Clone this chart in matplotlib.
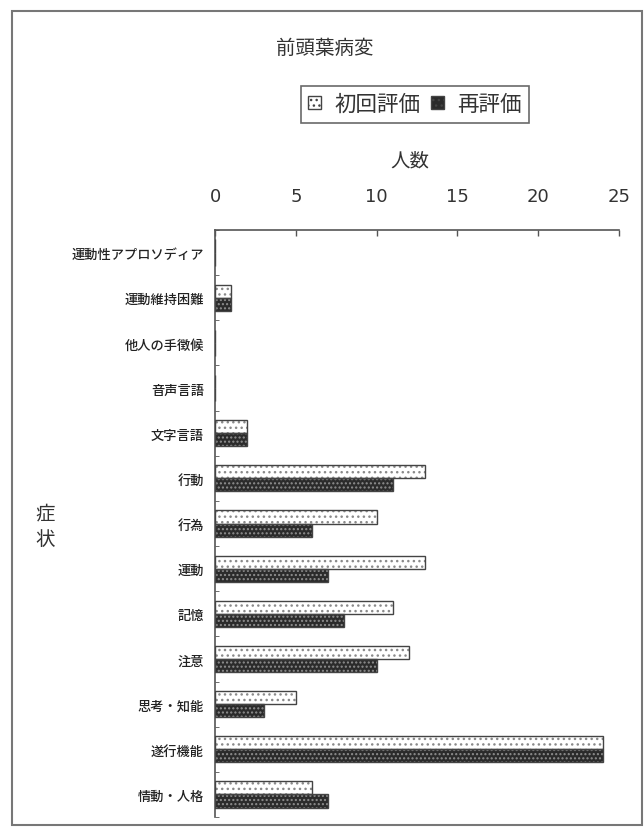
import numpy as np
import matplotlib.pyplot as plt
from matplotlib.patches import Patch, Rectangle

plt.rcParams['font.family'] = ['Noto Sans CJK JP', 'DejaVu Sans']
plt.rcParams['hatch.linewidth'] = 1.0

# 症状ごとの人数（上から順）
symptoms = ['運動性アプロソディア', '運動維持困難', '他人の手徴候', '音声言語', '文字言語',
            '行動', '行為', '運動', '記憶', '注意', '思考・知能', '遂行機能', '情動・人格']
first_eval = [0, 1, 0, 0, 2, 13, 10, 13, 11, 12, 5, 24, 6]
re_eval = [0, 1, 0, 0, 2, 11, 6, 7, 8, 10, 3, 24, 7]
x_ticks = [0, 5, 10, 15, 20, 25]

TXT = '#333333'

fig = plt.figure(figsize=(6.44, 8.28), dpi=100)
ax = fig.add_axes([0.334, 0.012, 0.627, 0.709])

y = np.arange(len(symptoms))
h = 0.29

# 初回評価: 白地に点、再評価: 黒地に点
ax.barh(y - h / 2, first_eval, height=h, color='white', edgecolor='#8a8a8a',
        hatch='...', linewidth=0, zorder=2)
ax.barh(y - h / 2, first_eval, height=h, fill=False, edgecolor='#444444',
        linewidth=1.0, zorder=3)
ax.barh(y + h / 2, re_eval, height=h, color='#2b2b2b', edgecolor='#8f8f8f',
        hatch='....', linewidth=0, zorder=2)
ax.barh(y + h / 2, re_eval, height=h, fill=False, edgecolor='#444444',
        linewidth=1.0, zorder=3)

ax.set_xlim(0, 25)
ax.set_ylim(len(symptoms) - 0.5, -0.5)
ax.xaxis.tick_top()
ax.set_xticks(x_ticks)
ax.tick_params(axis='x', direction='in', length=4, width=1, colors='#555555',
               labelsize=13, labelcolor=TXT, pad=18)
for lbl in ax.get_xticklabels():
    lbl.set_family('DejaVu Sans')

ax.set_yticks(y)
ax.set_yticklabels(symptoms, fontsize=9.5, color='#222222', fontweight='medium')
ax.set_yticks(np.arange(-0.5, len(symptoms), 1.0), minor=True)
ax.tick_params(axis='y', which='major', length=0, pad=8)
ax.tick_params(axis='y', which='minor', direction='in', length=3, color='#555555')

for side in ['right', 'bottom']:
    ax.spines[side].set_visible(False)
for side in ['top', 'left']:
    ax.spines[side].set_color('#555555')
    ax.spines[side].set_linewidth(1.2)

fig.text(0.505, 0.942, '前頭葉病変', ha='center', va='center', fontsize=14, color=TXT)
fig.text(0.637, 0.805, '人数', ha='center', va='center', fontsize=14, color=TXT)
fig.text(0.07, 0.364, '症\n状', ha='center', va='center', fontsize=14, color=TXT,
         linespacing=1.3)

handles = [Patch(facecolor='white', edgecolor='#444444', hatch='...', label='初回評価'),
           Patch(facecolor='#2b2b2b', edgecolor='#444444', hatch='...', label='再評価')]
leg = fig.legend(handles=handles, loc='center', bbox_to_anchor=(0.644, 0.873), ncol=2,
                 fontsize=15.5, frameon=True, fancybox=False, edgecolor='#444444',
                 handlelength=0.6, handleheight=0.6, handletextpad=0.6,
                 columnspacing=0.5, borderpad=0.35)
leg.get_frame().set_linewidth(1.2)
for t in leg.get_texts():
    t.set_color(TXT)

# 外枠
fig.patches.append(Rectangle((0.0186, 0.002), 0.978, 0.983, transform=fig.transFigure,
                             fill=False, edgecolor='#777777', linewidth=1.5))

fig.savefig('out.png', dpi=100)
